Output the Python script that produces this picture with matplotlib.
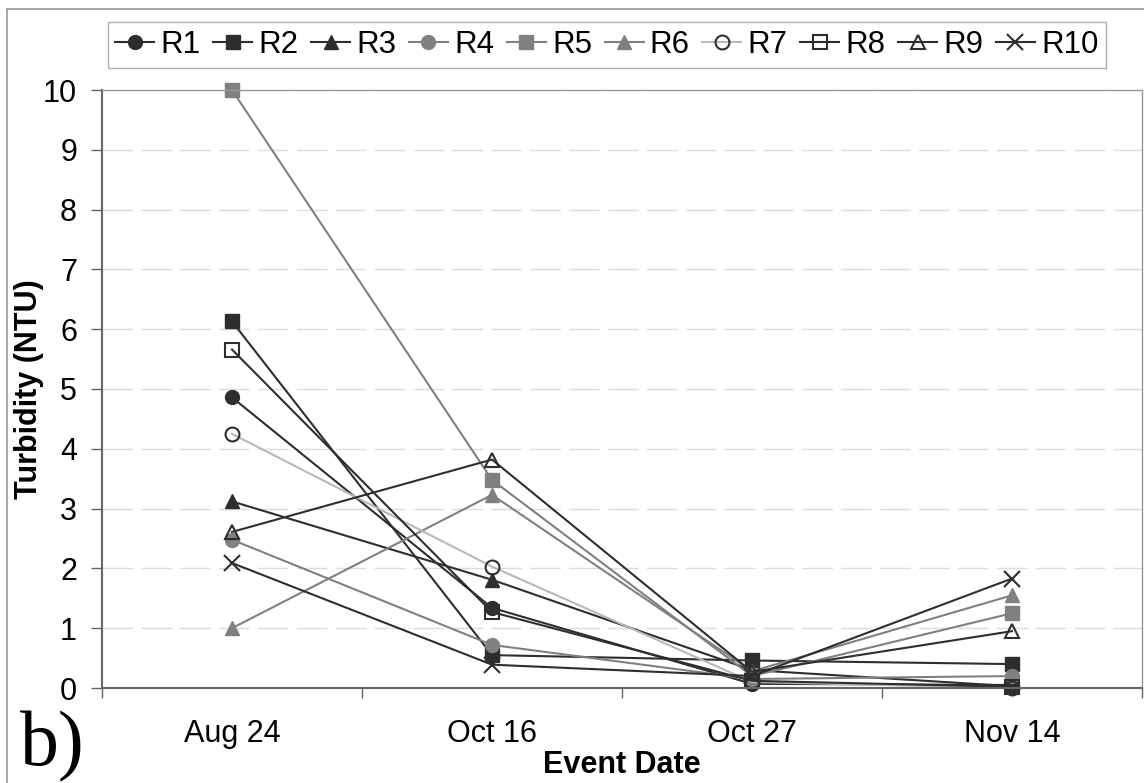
import matplotlib
matplotlib.use("Agg")
import matplotlib.pyplot as plt
from matplotlib.lines import Line2D

plt.rcParams['font.family'] = ['Liberation Sans', 'DejaVu Sans']

dates = ["Aug 24", "Oct 16", "Oct 27", "Nov 14"]
series_names = ["R1", "R2", "R3", "R4", "R5", "R6", "R7", "R8", "R9", "R10"]
R1 = [4.86, 1.34, 0.07, 0.05]
R2 = [6.13, 0.55, 0.46, 0.40]
R3 = [3.12, 1.81, 0.30, 0.03]
R4 = [2.48, 0.72, 0.15, 0.20]
R5 = [10.0, 3.48, 0.20, 1.25]
R6 = [1.00, 3.23, 0.28, 1.55]
R7 = [4.25, 2.03, 0.10, 0.00]
R8 = [5.66, 1.27, 0.12, 0.02]
R9 = [2.61, 3.82, 0.27, 0.95]
R10 = [2.09, 0.39, 0.20, 1.83]
values = [R1, R2, R3, R4, R5, R6, R7, R8, R9, R10]

dark = '#2e2e2e'
grey = '#808080'
light = '#b8b8b8'
styles = [
    dict(color=dark, marker='o', mfc=dark, mec=dark),
    dict(color=dark, marker='s', mfc=dark, mec=dark),
    dict(color=dark, marker='^', mfc=dark, mec=dark),
    dict(color=grey, marker='o', mfc=grey, mec=grey),
    dict(color=grey, marker='s', mfc=grey, mec=grey),
    dict(color=grey, marker='^', mfc=grey, mec=grey),
    dict(color=light, marker='o', mfc='none', mec=dark),
    dict(color=dark, marker='s', mfc='none', mec=dark),
    dict(color=dark, marker='^', mfc='none', mec=dark),
    dict(color=dark, marker='x', mfc=dark, mec=dark),
]

fig = plt.figure(figsize=(11.44, 7.83), dpi=100)
ax = fig.add_axes([102/1144, 95/783, 1040/1144, 598/783])

x = list(range(len(dates)))
handles = []
for name, vals, st in zip(series_names, values, styles):
    ms = 11 if st['marker'] == 'x' else 10
    h, = ax.plot(x, vals, color=st['color'], lw=1.5, marker=st['marker'],
                 markersize=ms, markerfacecolor=st['mfc'],
                 markeredgecolor=st['mec'], markeredgewidth=1.5 if st['mfc'] == 'none' or st['marker'] == 'x' else 1.0,
                 label=name, clip_on=False)
    handles.append(h)

ax.set_xlim(-0.5, 3.5)
ax.set_ylim(0, 10)
ax.set_yticks(range(0, 11))
ax.set_xticks(x)
ax.set_xticklabels(dates)
ax.set_xticks([-0.5, 0.5, 1.5, 2.5, 3.5], minor=True)
ax.tick_params(axis='x', which='major', length=0, labelsize=22, pad=22)
ax.tick_params(axis='x', which='minor', length=7, width=1, color='#666666')
ax.tick_params(axis='y', length=8, width=1, color='#666666', labelsize=22, pad=10)

ax.yaxis.grid(True, color='#dcdcdc', lw=1.0, dashes=(22, 6))
ax.set_axisbelow(True)

for s in ['left', 'bottom']:
    ax.spines[s].set_color('#666666')
    ax.spines[s].set_linewidth(1.5)
for s in ['top', 'right']:
    ax.spines[s].set_color('#999999')
    ax.spines[s].set_linewidth(1.0)

ax.set_xlabel("Event Date", fontsize=22, fontweight='bold', labelpad=1)
ax.set_ylabel("Turbidity (NTU)", fontsize=22, fontweight='bold', labelpad=-1)

leg = fig.legend(handles=handles, loc='center', bbox_to_anchor=(607/1144, 1 - 45/783),
                 ncol=10, fontsize=22.5, frameon=True, fancybox=False,
                 handlelength=1.25, handletextpad=0.2, columnspacing=0.4,
                 borderpad=0.25, borderaxespad=0, edgecolor='#999999')
leg.get_frame().set_linewidth(1.0)

# figure frame
fig.add_artist(Line2D([7/1144, 7/1144], [0, 1 - 9/783], transform=fig.transFigure, color='#999999', lw=1.2))
fig.add_artist(Line2D([7/1144, 1], [1 - 9/783, 1 - 9/783], transform=fig.transFigure, color='#999999', lw=1.2))

fig.text(20/1144, 1 - 765/783, "b)", fontsize=56, family=['Liberation Serif', 'DejaVu Serif'],
         ha='left', va='baseline')

fig.savefig("out.png", dpi=100)
